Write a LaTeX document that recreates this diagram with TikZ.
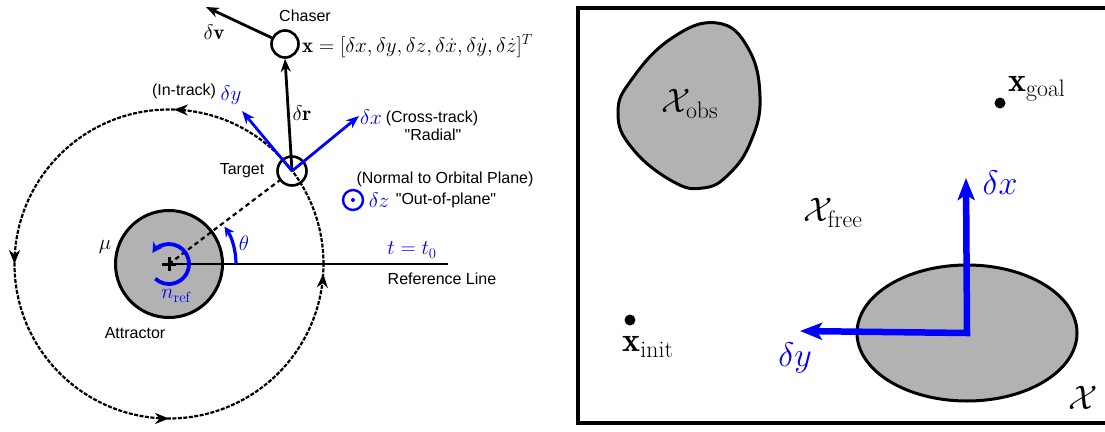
\RequirePackage{fix-cm}
\documentclass[tikz,border=0pt]{standalone}
\usepackage{fontspec}
\newfontfamily\arialf{Liberation Sans}
\usetikzlibrary{arrows.meta,decorations.markings,shapes.geometric}
\begin{document}
\begin{tikzpicture}[x=1pt,y=-1pt,
  sans/.style={font=\arialf\fontsize{16}{19}\selectfont, inner sep=0pt},
  lm/.style={font=\fontsize{21}{25}\selectfont, inner sep=0pt},
  bm/.style={lm, text=blue},
  bigm/.style={font=\fontsize{34}{40}\selectfont, inner sep=0pt},
  blk/.style={line width=2.8pt, -{Stealth[length=13pt,width=10pt]}},
  bluearr/.style={blk, draw=blue},
  orbitline/.style={line width=2.2pt, dash pattern=on 4pt off 1.5pt,
    postaction={decorate, solid},
    decoration={markings,
      mark=at position 0.245 with {\arrow{Stealth[length=14pt,width=11pt]}},
      mark=at position 0.5 with {\arrow{Stealth[length=14pt,width=11pt]}},
      mark=at position 0.75 with {\arrow{Stealth[length=14pt,width=11pt]}},
      mark=at position 0.99 with {\arrow{Stealth[length=14pt,width=11pt]}}}},
  obj/.style={draw, line width=3pt, fill=black!30},
  dot/.style={circle, fill=black, minimum size=11pt, inner sep=0pt}
]
\useasboundingbox (0,0) rectangle (1105,431);

% ---------------- left panel ----------------
\coordinate (O) at (169,264);
\draw[orbitline] (323.5,264) arc[start angle=0, end angle=-360, radius=154.5];

\node[circle, obj, minimum size=107pt, inner sep=0pt] (attr) at (O) {};
\draw[line width=3pt] ([xshift=-7pt]attr.center) -- ([xshift=7pt]attr.center)
  ([yshift=-7pt]attr.center) -- ([yshift=7pt]attr.center);

\coordinate (refend) at (448,264);
\draw[line width=2pt] (attr.center) -- (refend);

\node[circle, draw, line width=2.6pt, minimum size=29pt, inner sep=0pt] (target) at (292,171) {};
\node[circle, draw, line width=2.6pt, minimum size=27pt, inner sep=0pt] (chaser) at (285,44) {};

\draw[line width=2.2pt, dash pattern=on 4.5pt off 3.5pt] (attr.center) -- (target);

% n_ref rotation
\draw[blue, line width=3.8pt, -{Stealth[length=10pt,width=11pt]}]
  ([shift={(-227:20)}]attr.center) arc[start angle=-227, end angle=-506, radius=20];
% theta
\draw[blue, line width=3.2pt, -{Stealth[length=10pt,width=10pt]}]
  ([shift={(0:67)}]attr.center) arc[start angle=0, end angle=-34, radius=67];

% vectors
\coordinate (dvend) at (206,7);
\coordinate (dyend) at (242,111);
\coordinate (dxend) at (359,116);
\draw[blk] (target.center) -- (chaser.south);
\draw[blk] (chaser) -- (dvend);
\draw[bluearr] (target.center) -- (dyend);
\draw[bluearr] (target.center) -- (dxend);

% out of plane symbol
\node[circle, draw=blue, line width=2.4pt, minimum size=20pt, inner sep=0pt] (oz) at (353,200) {};
\fill[blue] (oz.center) circle[radius=2pt];

% labels
\node[sans] (lchaser) at (305,16) {Chaser};
\node[lm] (ldv) at (214,32) {$\delta\mathbf{v}$};
\node[lm] (ldr) at (302,113) {$\delta\mathbf{r}$};
\node[lm, anchor=west] (lstate) at (302,46) {$\mathbf{x} = [\delta x, \delta y, \delta z, \delta\dot{x}, \delta\dot{y}, \delta\dot{z}]^T$};
\node[sans] (lintrack) at (184,91) {(In-track)};
\node[bm] (ldy) at (231,95) {$\delta y$};
\node[bm] (ldx) at (371,117) {$\delta x$};
\node[sans] (lcross) at (432,118) {(Cross-track)};
\node[sans] (lradial) at (433,135) {"Radial"};
\node[sans] (ltarget) at (242,171) {Target};
\node[sans] (lnormal) at (445,179) {(Normal to Orbital Plane)};
\node[bm] (ldz) at (379,200) {$\delta z$};
\node[sans] (lout) at (446,200) {"Out-of-plane"};
\node[bm] (lt0) at (412,250) {$t = t_0$};
\node[sans] (lref) at (442,279) {Reference Line};
\node[lm] (lmu) at (105,247) {$\mu$};
\node[bm] (ltheta) at (244,243) {$\theta$};
\node[bm] (lnref) at (176,296) {$n_{\mathrm{ref}}$};
\node[sans] (lattr) at (135,333) {Attractor};

% ---------------- right panel ----------------
\draw[line width=3.5pt] (578,8) rectangle (1112,423);

\draw[obj] plot[smooth cycle, tension=0.75] coordinates {
  (717,23) (748,48) (760,97) (751,141) (729,174) (703,188)
  (672,181) (632,148) (618,113) (632,79) (672,38)};
\node[bigm] (xobs) at (690,104) {$\mathcal{X}_{\mathrm{obs}}$};

\node[ellipse, obj, minimum width=220pt, minimum height=136pt, inner sep=0pt] (ell) at (967,333) {};

\coordinate (bx) at (966,178);
\coordinate (by) at (800,331);
\draw[blue, line width=6.5pt, {Stealth[length=22pt,width=17pt,inset=5pt]}-{Stealth[length=22pt,width=17pt,inset=5pt]}]
  (by) -- (ell.center) -- (bx);
\node[bigm, text=blue] (lbx) at (1000,183) {$\delta x$};
\node[bigm, text=blue] (lby) at (795,358) {$\delta y$};

\node[bigm] (xfree) at (833,213) {$\mathcal{X}_{\mathrm{free}}$};

\node[dot] (goal) at (1000,103) {};
\node[bigm, anchor=base west] (lgoal) at (1008,91) {$\mathbf{x}_{\mathrm{goal}}$};
\node[dot] (init) at (630,320) {};
\node[bigm] (linit) at (648,347) {$\mathbf{x}_{\mathrm{init}}$};

\node[bigm] (lX) at (1083,398) {$\mathcal{X}$};
\end{tikzpicture}
\end{document}
